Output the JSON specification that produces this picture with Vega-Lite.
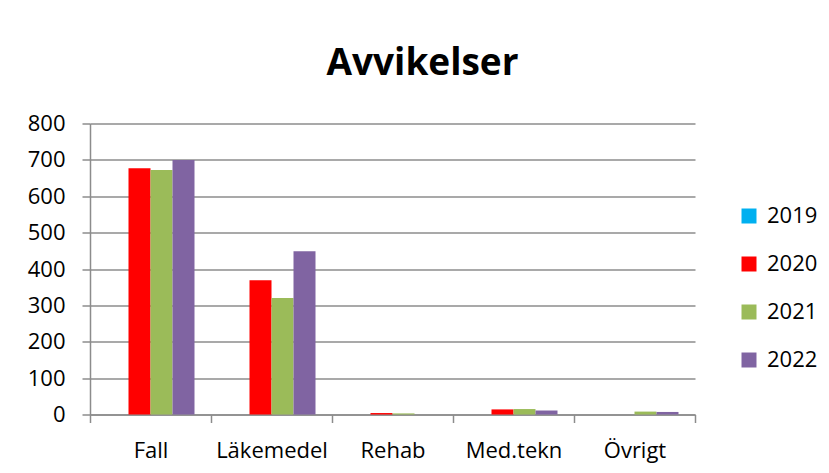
{
  "$schema": "https://vega.github.io/schema/vega-lite/v6.json",
  "autosize": "none",
  "width": 605,
  "height": 291,
  "padding": {"left": 90, "top": 123.5, "right": 134, "bottom": 58.5},
  "background": "white",
  "title": {
    "text": "Avvikelser",
    "font": "Open Sans",
    "fontSize": 37,
    "fontWeight": "bold",
    "color": "#000000",
    "anchor": "middle",
    "frame": "group",
    "baseline": "alphabetic",
    "offset": 1,
    "dx": 30
  },
  "data": {
    "values": [
      {"kategori": "Fall", "year": "2019", "antal": 0},
      {"kategori": "Fall", "year": "2020", "antal": 677},
      {"kategori": "Fall", "year": "2021", "antal": 672},
      {"kategori": "Fall", "year": "2022", "antal": 700},
      {"kategori": "Läkemedel", "year": "2019", "antal": 0},
      {"kategori": "Läkemedel", "year": "2020", "antal": 369},
      {"kategori": "Läkemedel", "year": "2021", "antal": 320},
      {"kategori": "Läkemedel", "year": "2022", "antal": 449},
      {"kategori": "Rehab", "year": "2019", "antal": 0},
      {"kategori": "Rehab", "year": "2020", "antal": 4},
      {"kategori": "Rehab", "year": "2021", "antal": 3},
      {"kategori": "Rehab", "year": "2022", "antal": 0},
      {"kategori": "Med.tekn", "year": "2019", "antal": 0},
      {"kategori": "Med.tekn", "year": "2020", "antal": 14},
      {"kategori": "Med.tekn", "year": "2021", "antal": 15},
      {"kategori": "Med.tekn", "year": "2022", "antal": 11},
      {"kategori": "Övrigt", "year": "2019", "antal": 0},
      {"kategori": "Övrigt", "year": "2020", "antal": 0},
      {"kategori": "Övrigt", "year": "2021", "antal": 8},
      {"kategori": "Övrigt", "year": "2022", "antal": 7}
    ]
  },
  "mark": {"type": "bar"},
  "encoding": {
    "x": {
      "field": "kategori",
      "type": "nominal",
      "sort": null,
      "scale": {"paddingInner": 0, "paddingOuter": 0},
      "axis": {
        "title": null,
        "labelAngle": 0,
        "tickBand": "extent",
        "grid": false,
        "domainColor": "#8c8c8c",
        "domainWidth": 1.5,
        "tickColor": "#8c8c8c",
        "tickWidth": 1.5,
        "tickSize": 8,
        "labelFont": "Open Sans",
        "labelFontSize": 22,
        "labelColor": "#000000",
        "labelPadding": 18
      }
    },
    "xOffset": {
      "field": "year",
      "type": "nominal",
      "scale": {"paddingInner": 0, "paddingOuter": 0.75}
    },
    "y": {
      "field": "antal",
      "type": "quantitative",
      "scale": {"domain": [0, 800], "nice": false},
      "axis": {
        "title": null,
        "values": [0, 100, 200, 300, 400, 500, 600, 700, 800],
        "grid": true,
        "gridColor": "#8c8c8c",
        "gridWidth": 1.5,
        "domainColor": "#8c8c8c",
        "domainWidth": 1.5,
        "tickColor": "#8c8c8c",
        "tickWidth": 1.5,
        "tickSize": 8,
        "labelFont": "Open Sans",
        "labelFontSize": 22,
        "labelColor": "#000000",
        "labelPadding": 17
      }
    },
    "color": {
      "field": "year",
      "type": "nominal",
      "scale": {
        "domain": ["2019", "2020", "2021", "2022"],
        "range": ["#00B0F0", "#FF0000", "#9BBB59", "#8064A2"]
      },
      "legend": {
        "title": null,
        "orient": "none",
        "legendX": 648,
        "legendY": 81.5,
        "symbolType": "square",
        "symbolSize": 225,
        "symbolStrokeWidth": 0,
        "labelFont": "Open Sans",
        "labelFontSize": 22,
        "labelColor": "#000000",
        "labelOffset": 7,
        "rowPadding": 26,
        "padding": 0
      }
    }
  },
  "config": {
    "view": {"stroke": null},
    "bar": {"stroke": null}
  }
}
